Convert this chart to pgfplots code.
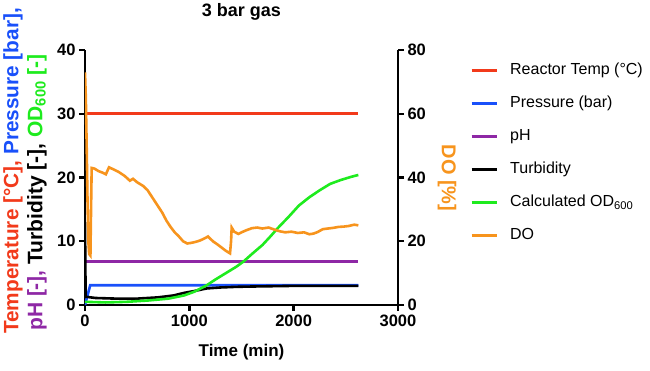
\documentclass[border=0pt]{standalone}
\usepackage{fontspec}
\setmainfont{Liberation Sans}
\usepackage{pgfplots}
\pgfplotsset{compat=1.18}
\definecolor{cRed}{RGB}{242,58,27}
\definecolor{cBlue}{RGB}{25,80,250}
\definecolor{cPurple}{RGB}{142,40,165}
\definecolor{cGreen}{RGB}{30,235,30}
\definecolor{cOrange}{RGB}{247,148,29}
\pgfplotsset{legend image code/.code={\draw[#1,line width=3pt] (0pt,0pt) -- (25pt,0pt);}}
\begin{document}
\begin{tikzpicture}
\useasboundingbox (-85pt,-65pt) rectangle (565pt,305pt);
\pgfplotsset{
  base/.style={
    at={(0pt,0pt)}, anchor=south west, scale only axis,
    width=313pt, height=255pt,
    xmin=0, xmax=3000,
    /pgf/number format/assume math mode=true,
    /pgf/number format/1000 sep={},
    tick label style={font=\bfseries\fontsize{16.5}{18}\selectfont},
    axis line style={line width=2.6pt, black},
    tick style={line width=2.4pt, black},
    major tick length=6pt,
    tick align=outside,
    minor tick num=0,
  }
}
\begin{axis}[base,
  ymin=0, ymax=40,
  axis x line*=bottom, axis y line*=left,
  xtick={0,1000,2000,3000},
  ytick={0,10,20,30,40},
]
\addplot[cRed, line width=2.6pt] coordinates {(0,30) (2620,30)};
\addplot[cBlue, line width=2.6pt] coordinates {(0,0) (50,3.1) (2620,3.1)};
\addplot[cPurple, line width=2.6pt] coordinates {(0,6.8) (2620,6.8)};
\addplot[black, line width=2.6pt] coordinates {
(0,13) (6,1.3) (100,1.1) (300,1.0) (500,1.0) (700,1.2) (850,1.5) (950,1.9)
(1050,2.2) (1167,2.6) (1300,2.75) (1450,2.85) (1600,2.9) (2000,3.0) (2620,3.0)};
\addplot[cGreen, line width=2.6pt] coordinates {
(0,0.5) (200,0.4) (400,0.5) (600,0.7) (800,1.0) (950,1.5) (1050,2.1) (1167,3.1)
(1250,4.0) (1350,5.0) (1450,6.0) (1518,6.8) (1600,8.0) (1700,9.4) (1774,10.7)
(1850,12.1) (1950,13.8) (2050,15.6) (2150,16.9) (2250,18.0) (2350,19.0)
(2450,19.6) (2550,20.1) (2620,20.4)};
\end{axis}
\begin{axis}[base,
  ymin=0, ymax=80,
  axis x line=none, axis y line*=right,
  ytick={0,20,40,60,80},
  legend style={at={(rel axis cs:1.23,0.95)}, anchor=north west, draw=none, fill=none,
    inner sep=0pt, font=\fontsize{16}{18}\selectfont, row sep=17pt, column sep=12pt,
    nodes={inner sep=0pt, text height=12pt, text depth=4pt}},
  legend cell align=left,
]
\addlegendimage{cRed}
\addlegendentry{Reactor Temp (°C)}
\addlegendimage{cBlue}
\addlegendentry{Pressure (bar)}
\addlegendimage{cPurple}
\addlegendentry{pH}
\addlegendimage{black}
\addlegendentry{Turbidity}
\addlegendimage{cGreen}
\addlegendentry{Calculated OD\textsubscript{600}}
\addplot[cOrange, line width=2.6pt] coordinates {
(0,73) (8,65) (16,50) (24,33) (32,20) (40,16) (52,15.5) (58,30) (64,43)
(90,42.8) (130,42) (170,41.5) (200,41) (230,43.2) (270,42.6) (320,41.8)
(380,40.5) (430,39) (460,39.6) (500,38.5) (560,37.3) (600,36) (650,33.5)
(700,31) (740,29) (780,26.5) (820,24.5) (860,22.8) (900,21.5) (940,20)
(980,19.3) (1020,19.5) (1060,19.8) (1100,20.2) (1140,20.8) (1180,21.5)
(1200,20.8) (1230,19.9) (1270,19) (1310,18) (1350,17) (1390,16.2) (1400,20)
(1406,24.3) (1430,23) (1470,22.3) (1500,22.8) (1550,23.5) (1600,24.1)
(1650,24.3) (1700,24) (1760,24.3) (1820,23.6) (1870,23.1) (1920,22.8)
(1980,23) (2040,22.6) (2100,22.8) (2150,22.2) (2190,22.4) (2230,22.9)
(2280,23.8) (2330,24) (2380,24.2) (2430,24.5) (2480,24.6) (2530,24.8)
(2580,25.2) (2620,25)};
\addlegendentry{DO}
\end{axis}
\node[font=\bfseries\fontsize{18}{20}\selectfont] at (156.5pt,293pt) {3 bar gas};
\node[font=\bfseries\fontsize{17}{20}\selectfont] at (156.5pt,-47pt) {Time (min)};
\node[rotate=90, anchor=west, inner sep=0pt, font=\bfseries\fontsize{20.8}{24}\selectfont]
  at (-72pt,-29pt) {\textcolor{cRed}{Temperature [°C],} \textcolor{cBlue}{Pressure [bar],}};
\node[rotate=90, anchor=west, inner sep=0pt, font=\bfseries\fontsize{21}{24}\selectfont]
  at (-48pt,-26pt) {\textcolor{cPurple}{pH [-],} Turbidity [-], \textcolor{cGreen}{OD\textsubscript{600} [-]}};
\node[rotate=-90, inner sep=0pt, text=cOrange, font=\bfseries\fontsize{20}{22}\selectfont]
  at (362pt,127pt) {DO [\%]};
\end{tikzpicture}
\end{document}
